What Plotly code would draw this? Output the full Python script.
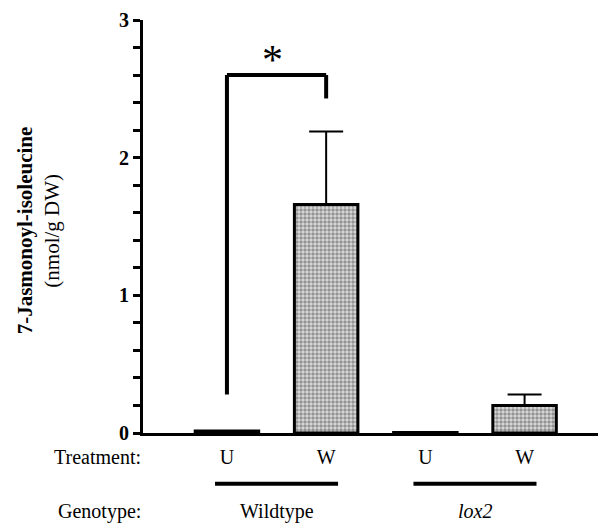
import plotly.graph_objects as go

# ---- data ----
categories = ["WT_U", "WT_W", "lox2_U", "lox2_W"]
treatment_labels = ["U", "W", "U", "W"]
values = [0.015, 1.66, 0.004, 0.20]
errors = [0.0, 0.53, 0.0, 0.08]
genotypes = ["Wildtype", "<i>lox2</i>"]
y_ticks = [0, 1, 2, 3]
bracket_levels = [0.28, 2.6, 2.43]  # left end, top, right end
star_level = 2.71

FONT = "Liberation Serif"

fig = go.Figure()
fig.add_trace(go.Bar(
    x=categories, y=values,
    marker=dict(color="white",
                line=dict(color="black", width=3),
                pattern=dict(shape=".", size=4, solidity=0.6,
                             fgcolor="#4a4a4a", bgcolor="#dcdcdc")),
    error_y=dict(type="data", symmetric=False, array=errors,
                 arrayminus=[0] * len(errors), color="black",
                 thickness=2, width=17),
    width=0.64,
))

# significance bracket
fig.add_shape(type="line", xref="x", yref="y", x0=categories[0], x1=categories[0],
              y0=bracket_levels[0], y1=bracket_levels[1], line=dict(color="black", width=4))
fig.add_shape(type="line", xref="x", yref="y", x0=categories[0], x1=categories[1],
              y0=bracket_levels[1], y1=bracket_levels[1], line=dict(color="black", width=4))
fig.add_shape(type="line", xref="x", yref="y", x0=categories[1], x1=categories[1],
              y0=bracket_levels[2], y1=bracket_levels[1], line=dict(color="black", width=4))
fig.add_annotation(x=0.46, xref="x", y=star_level, yref="y", text="*", showarrow=False,
                   font=dict(family=FONT, size=42, color="black"), yanchor="middle")

# genotype lines and labels
for i, g in enumerate(genotypes):
    a, b = 2 * i, 2 * i + 1
    fig.add_shape(type="line", xref="x", yref="paper", x0=a - 0.12, x1=b + 0.12,
                  y0=-0.123, y1=-0.123, line=dict(color="black", width=4))
    fig.add_annotation(x=(a + b) / 2, xref="x", y=-0.19, yref="paper", text=g,
                       showarrow=False, font=dict(family=FONT, size=20, color="black"),
                       yanchor="middle")

fig.add_annotation(x=0, xref="paper", y=-0.058, yref="paper", text="Treatment:",
                   showarrow=False, xanchor="right", yanchor="middle",
                   font=dict(family=FONT, size=20, color="black"))
fig.add_annotation(x=0, xref="paper", y=-0.19, yref="paper", text="Genotype:",
                   showarrow=False, xanchor="right", yanchor="middle",
                   font=dict(family=FONT, size=20, color="black"))

# y axis title (two lines)
fig.add_annotation(x=-0.26, xref="paper", y=0.49, yref="paper", xanchor="center",
                   yanchor="middle",
                   text="<b>7-Jasmonoyl-isoleucine</b>", textangle=-90, showarrow=False,
                   font=dict(family=FONT, size=21, color="black"))
fig.add_annotation(x=-0.2, xref="paper", y=0.49, yref="paper", xanchor="center",
                   yanchor="middle",
                   text="(nmol/g DW)", textangle=-90, showarrow=False,
                   font=dict(family=FONT, size=21, color="black"))

fig.update_layout(
    width=598, height=525,
    margin=dict(l=143, r=0, t=20, b=92),
    plot_bgcolor="white", paper_bgcolor="white",
    showlegend=False,
    font=dict(family=FONT, color="black"),
)
fig.update_xaxes(
    type="category", tickmode="array", tickvals=categories, ticktext=treatment_labels,
    range=[-0.846, 3.74], showline=True, linecolor="black", linewidth=3,
    ticks="outside", ticklen=4, tickcolor="rgba(0,0,0,0)",
    tickfont=dict(family=FONT, size=20, color="black"), showgrid=False, zeroline=False,
)
fig.update_yaxes(
    range=[0, 3], tickmode="array", tickvals=y_ticks,
    ticktext=[f"<b>{v}</b>" for v in y_ticks],
    showline=True, linecolor="black", linewidth=3,
    ticks="outside", ticklen=7, tickwidth=3, tickcolor="black",
    minor=dict(ticks="outside", ticklen=7, tickwidth=3, tickcolor="black", dtick=0.2, showgrid=False),
    tickfont=dict(family=FONT, size=20, color="black"),
    showgrid=False, zeroline=False,
)

fig.write_html("out.html")
